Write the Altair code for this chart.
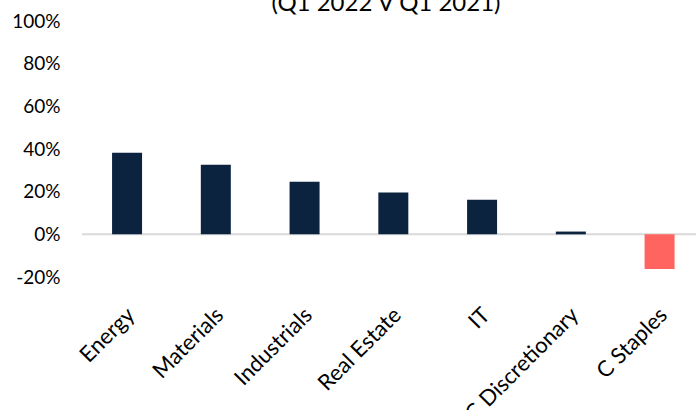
import altair as alt
import pandas as pd

sectors = ["Energy", "Materials", "Industrials", "Real Estate", "IT", "C Discretionary", "C Staples"]
values = [38.2, 32.6, 24.7, 19.6, 16.2, 1.3, -16.2]
y_ticks = [-20, 0, 20, 40, 60, 80, 100]
title_text = "(Q1 2022 V Q1 2021)"

df = pd.DataFrame({"sector": sectors, "value": values})
df["sign"] = ["neg" if v < 0 else "pos" for v in values]

FONT = "Lato"

yscale = alt.Scale(domain=[-20, 100], nice=False, zero=False)
yaxis = alt.Axis(
    title=None, values=y_ticks, domain=False, ticks=False, grid=False,
    labelPadding=22, labelFontSize=19, labelFont=FONT, labelColor="#000000",
    labelExpr="datum.value + '%'",
)

x = alt.X(
    "sector:N",
    sort=sectors,
    scale=alt.Scale(paddingInner=0.662, paddingOuter=0.29, align=0.584),
    axis=alt.Axis(
        title=None, labelAngle=-45, domain=False, ticks=False,
        labelPadding=27, labelOffset=-3, labelFontSize=22, labelFont=FONT,
        labelColor="#000000",
    ),
)

bars = alt.Chart(df).mark_bar().encode(
    x=x,
    y=alt.Y("value:Q", scale=yscale, axis=yaxis),
    y2=alt.datum(0),
    color=alt.Color(
        "sign:N",
        scale=alt.Scale(domain=["pos", "neg"], range=["#0c2340", "#ff6461"]),
        legend=None,
    ),
)

zero = alt.Chart(pd.DataFrame({"value": [0]})).mark_rule(color="#d9d9d9", strokeWidth=2).encode(
    y=alt.Y("value:Q", scale=yscale, axis=yaxis),
)

title = alt.Chart(pd.DataFrame({"t": [title_text]})).mark_text(
    fontSize=24, font=FONT, color="#000000", baseline="alphabetic", align="center",
).encode(
    text="t:N",
    x=alt.value(304),
    y=alt.value(-10),
)

chart = alt.layer(zero, bars, title).properties(
    width=614,
    height=256,
    autosize=alt.AutoSizeParams(type="none"),
    padding={"left": 82, "top": 21, "right": 0, "bottom": 133},
).configure_view(stroke=None)

chart.save("out.html", embed_options={"renderer": "svg", "actions": False})
